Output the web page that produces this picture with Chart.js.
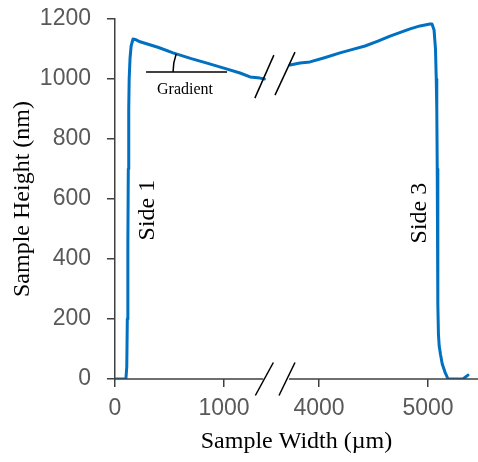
<!DOCTYPE html>
<html>
<head>
<meta charset="utf-8">
<title>Sample Height vs Sample Width</title>
<script src="https://cdn.jsdelivr.net/npm/chart.js@4.4.0/dist/chart.umd.min.js"></script>
<style>
    html, body { margin: 0; padding: 0; background: #fff; }
    #wrap { width: 478px; height: 462px; }
</style>
</head>
<body>
<div id="wrap"><canvas id="profileChart" width="478" height="462"></canvas></div>
<script>
// Profile before the axis break (width in µm, height in nm)
const leftWidth  = [0, 20, 100, 108, 113, 118, 122, 126, 130, 138, 148, 165, 185, 230, 400, 532, 700, 844, 991, 1147, 1239, 1330, 1370];
const leftHeight = [0, 0, 0, 40, 200, 450, 700, 900, 1000, 1070, 1110, 1133, 1132, 1124, 1105, 1087, 1068, 1053, 1037, 1020, 1007, 1003, 1000];

// Profile after the axis break
const rightWidth  = [3734, 3825, 3917, 4050, 4192, 4300, 4422, 4540, 4651, 4835, 4926, 5018, 5036, 5055, 5068, 5075, 5080, 5084, 5088, 5091, 5095, 5102, 5115, 5130, 5155, 5183, 5320, 5366];
const rightHeight = [1047, 1053, 1057, 1071, 1087, 1098, 1110, 1126, 1143, 1167, 1177, 1183, 1183, 1163, 1100, 1000, 900, 700, 450, 250, 150, 110, 80, 50, 23, 0, 0, 13];

// Axis ticks
const xTicks = [0, 1000, 4000, 5000];
const yTicks = [0, 200, 400, 600, 800, 1000, 1200];

// Axis break: left part ends at breakLeft, right part starts at breakRight
const breakLeft = 1370;
const breakRight = 3715;
const breakShift = 2128;
const xEnd = 5458;

// Map a real width onto the compressed axis
function toAxis(w) {
    return w > breakLeft ? w - breakShift : w;
}

function toPoints(xs, ys) {
    return xs.map((x, i) => ({ x: toAxis(x), y: ys[i] }));
}

const axisColor = '#404040';
const tickColor = '#595959';
const lineColor = '#0070C0';

// Draws the broken x axis, break marks and the text annotations
const annotations = {
    id: 'annotations',
    afterDatasetsDraw(chart) {
        const ctx = chart.ctx;
        const xs = chart.scales.x;
        const ys = chart.scales.y;
        const px = w => xs.getPixelForValue(toAxis(w));
        const py = h => ys.getPixelForValue(h);
        const bottom = chart.chartArea.bottom;

        ctx.save();

        // x axis line, in two pieces
        ctx.strokeStyle = axisColor;
        ctx.lineWidth = 1.5;
        ctx.beginPath();
        ctx.moveTo(px(0), bottom);
        ctx.lineTo(px(breakLeft) - 1, bottom);
        ctx.moveTo(px(breakRight) + 1, bottom);
        ctx.lineTo(chart.chartArea.right, bottom);
        ctx.stroke();

        // break marks
        ctx.strokeStyle = '#000';
        ctx.lineWidth = 1.5;
        function slash(cx, cy, dx, dy) {
            ctx.beginPath();
            ctx.moveTo(cx - dx, cy + dy);
            ctx.lineTo(cx + dx, cy - dy);
            ctx.stroke();
        }
        slash(px(breakLeft), bottom, 9, 16.5);
        slash(px(breakRight) - 1, bottom, 8, 16.5);
        slash(px(breakLeft), py(1008), 9.5, 21.5);
        slash(px(breakRight) - 3, py(1018), 10, 21.5);

        // gradient marker
        const gx0 = px(285), gx1 = px(1028), gy = py(1023);
        ctx.lineWidth = 1.5;
        ctx.beginPath();
        ctx.moveTo(gx0, gy);
        ctx.lineTo(gx1, gy);
        ctx.stroke();
        ctx.beginPath();
        ctx.arc(gx1, gy, 54, Math.PI, Math.PI + 0.34);
        ctx.stroke();

        ctx.fillStyle = '#000';
        ctx.textAlign = 'center';
        ctx.textBaseline = 'middle';
        ctx.font = '16px "Liberation Serif"';
        ctx.fillText('Gradient', px(642), py(965));

        // side labels
        ctx.font = '24px "Liberation Serif"';
        function vText(text, x, y) {
            ctx.save();
            ctx.translate(x, y);
            ctx.rotate(-Math.PI / 2);
            ctx.fillText(text, 0, 0);
            ctx.restore();
        }
        vText('Side 1', px(303), py(563));
        vText('Side 3', px(4926), py(553));

        ctx.restore();
    }
};

const chart = new Chart(document.getElementById('profileChart'), {
    type: 'line',
    data: {
        datasets: [
            {
                data: toPoints(leftWidth, leftHeight),
                borderColor: lineColor,
                borderWidth: 3,
                borderJoinStyle: 'round',
                borderCapStyle: 'round',
                pointRadius: 0,
                fill: false
            },
            {
                data: toPoints(rightWidth, rightHeight),
                borderColor: lineColor,
                borderWidth: 3,
                borderJoinStyle: 'round',
                borderCapStyle: 'round',
                pointRadius: 0,
                fill: false
            }
        ]
    },
    options: {
        responsive: false,
        animation: false,
        layout: { padding: { top: 19, left: 0, right: 0, bottom: 0 } },
        plugins: {
            legend: { display: false },
            tooltip: { enabled: false }
        },
        scales: {
            x: {
                type: 'linear',
                min: 0,
                max: toAxis(xEnd),
                afterBuildTicks: scale => {
                    scale.ticks = xTicks.map(v => ({ value: toAxis(v) }));
                },
                afterFit: scale => {
                    scale.height = 83;
                    scale.paddingLeft = 0;
                    scale.paddingRight = 0;
                },
                border: { display: false },
                grid: {
                    drawOnChartArea: false,
                    tickLength: 8,
                    color: axisColor,
                    lineWidth: 1.5
                },
                ticks: {
                    padding: 8,
                    color: tickColor,
                    font: { family: 'Liberation Sans', size: 23 },
                    callback: (value, index) => String(xTicks[index])
                },
                title: {
                    display: true,
                    text: 'Sample Width (µm)',
                    color: '#000',
                    font: { family: 'Liberation Serif', size: 24 },
                    padding: { bottom: 6 }
                }
            },
            y: {
                min: 0,
                max: 1200,
                afterBuildTicks: scale => {
                    scale.ticks = yTicks.map(v => ({ value: v }));
                },
                afterFit: scale => {
                    scale.width = 115;
                    scale.paddingTop = 0;
                    scale.paddingBottom = 0;
                },
                border: { color: axisColor, width: 1.5 },
                grid: {
                    drawOnChartArea: false,
                    tickLength: 8,
                    color: axisColor,
                    lineWidth: 1.5
                },
                ticks: {
                    padding: 16,
                    color: tickColor,
                    font: { family: 'Liberation Sans', size: 23 },
                    callback: value => String(value)
                },
                title: {
                    display: true,
                    text: 'Sample Height (nm)',
                    color: '#000',
                    font: { family: 'Liberation Serif', size: 24 },
                    padding: { top: 8 }
                }
            }
        }
    },
    plugins: [annotations]
});
</script>
</body>
</html>
